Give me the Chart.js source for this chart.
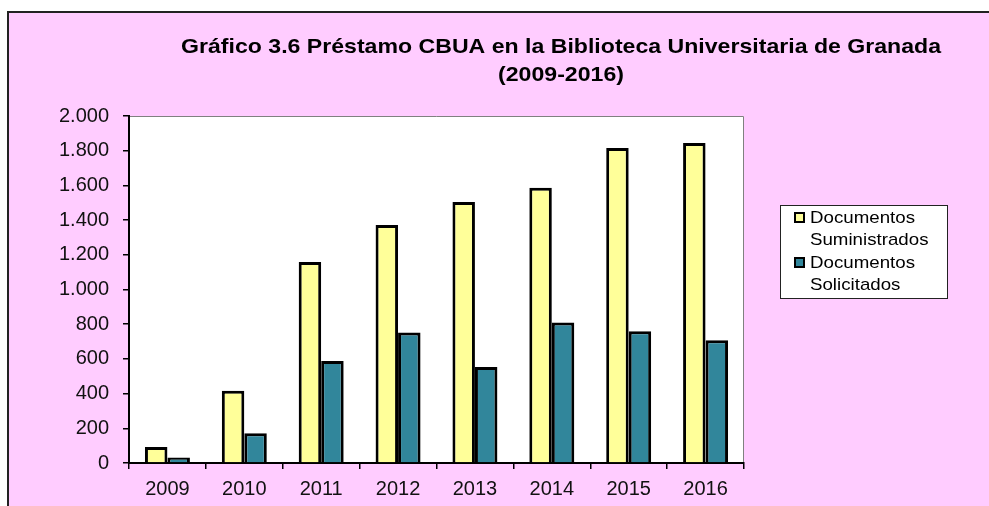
<!DOCTYPE html>
<html>
<head>
<meta charset="utf-8">
<script src="https://cdn.jsdelivr.net/npm/chart.js"></script>
<style>
  html, body { margin: 0; padding: 0; background: #fff; }
  #wrap { position: absolute; left: 0; top: 0; width: 989px; height: 506px; }
</style>
</head>
<body>
<div id="wrap"><canvas id="myChart" width="989" height="506"></canvas></div>
<script>
var years = ["2009", "2010", "2011", "2012", "2013", "2014", "2015", "2016"];
var suministrados = [92, 417, 1158, 1372, 1505, 1587, 1815, 1845];
var solicitados = [32, 172, 588, 752, 553, 810, 760, 707];
var seriesNames = [["Documentos", "Suministrados"], ["Documentos", "Solicitados"]];
var yTickLabels = ["0", "200", "400", "600", "800", "1.000", "1.200", "1.400", "1.600", "1.800", "2.000"];
var titleLines = ["Gráfico 3.6 Préstamo CBUA en la Biblioteca Universitaria de Granada", "(2009-2016)"];

var FONT = "'Liberation Sans', Arial, sans-serif";

// draw text a bit wider than the font, like the original picture
function wideText(ctx, text, x, y, sx) {
  ctx.save();
  ctx.translate(x, y);
  ctx.scale(sx, 1);
  ctx.fillText(text, 0, 0);
  ctx.restore();
}

// background frame, plot area, title and legend box
var decor = {
  id: "decor",
  beforeDraw: function (chart) {
    var ctx = chart.ctx, a = chart.chartArea;
    ctx.save();
    ctx.fillStyle = "#ffffff";
    ctx.fillRect(0, 0, chart.width, chart.height);
    ctx.fillStyle = "#ffccff";
    ctx.fillRect(8, 12, chart.width - 8, chart.height - 12);
    ctx.strokeStyle = "#222";
    ctx.lineWidth = 2;
    ctx.beginPath();
    ctx.moveTo(8, chart.height);
    ctx.lineTo(8, 12);
    ctx.lineTo(chart.width, 12);
    ctx.stroke();
    ctx.fillStyle = "#ffffff";
    ctx.fillRect(a.left, a.top, a.right - a.left, a.bottom - a.top);
    ctx.strokeStyle = "#808080";
    ctx.lineWidth = 1;
    ctx.beginPath();
    ctx.moveTo(a.left, a.top + 0.5);
    ctx.lineTo(a.right - 0.5, a.top + 0.5);
    ctx.lineTo(a.right - 0.5, a.bottom);
    ctx.stroke();
    ctx.restore();
  },
  afterDraw: function (chart) {
    var ctx = chart.ctx;
    ctx.save();
    ctx.fillStyle = "#000";
    ctx.textAlign = "center";
    ctx.textBaseline = "alphabetic";
    ctx.font = "bold 21px " + FONT;
    wideText(ctx, titleLines[0], 561, 53, 1.1);
    wideText(ctx, titleLines[1], 561, 81, 1.1);

    // legend
    var lx = 780, ly = 205, lw = 167, lh = 93;
    ctx.fillStyle = "#fff";
    ctx.fillRect(lx, ly, lw, lh);
    ctx.strokeStyle = "#222";
    ctx.lineWidth = 1;
    ctx.strokeRect(lx + 0.5, ly + 0.5, lw, lh);
    ctx.font = "17px " + FONT;
    ctx.textAlign = "left";
    ctx.textBaseline = "middle";
    var row = 0;
    chart.data.datasets.forEach(function (ds, i) {
      var names = seriesNames[i];
      var cy = ly + 13 + row * 22.5;
      ctx.fillStyle = ds.backgroundColor;
      ctx.fillRect(lx + 15, cy - 5, 9, 9);
      ctx.strokeStyle = "#000";
      ctx.lineWidth = 2;
      ctx.strokeRect(lx + 15, cy - 5, 9, 9);
      ctx.fillStyle = "#000";
      names.forEach(function (t, j) {
        wideText(ctx, t, lx + 30, cy + j * 22.5, 1.1);
      });
      row += names.length;
    });
    ctx.restore();
  }
};

var ctx = document.getElementById("myChart").getContext("2d");
var myChart = new Chart(ctx, {
  type: "bar",
  data: {
    labels: years,
    datasets: [
      {
        label: seriesNames[0].join(" "),
        data: suministrados,
        backgroundColor: "#ffff99",
        borderColor: "#000",
        borderWidth: 3,
      },
      {
        label: seriesNames[1].join(" "),
        data: solicitados,
        backgroundColor: "#31869b",
        borderColor: "#000",
        borderWidth: 3,
      },
    ],
  },
  options: {
    responsive: false,
    animation: false,
    layout: { padding: { top: 116, right: 245, bottom: 0, left: 0 } },
    datasets: { bar: { categoryPercentage: 0.585, barPercentage: 1 } },
    plugins: {
      legend: { display: false },
      title: { display: false },
      tooltip: { enabled: false },
    },
    scales: {
      x: {
        afterFit: function (s) { s.height = 43; },
        grid: { display: true, drawOnChartArea: false, drawTicks: true, tickLength: 6, color: "#000", lineWidth: 1.5, offset: true },
        border: { display: true, color: "#000", width: 2 },
        ticks: { color: "#111", font: { family: FONT, size: 20 }, padding: 8 },
      },
      y: {
        min: 0,
        max: 2000,
        afterFit: function (s) { s.width = 129; },
        grid: { display: true, drawOnChartArea: false, drawTicks: true, tickLength: 6, color: "#000", lineWidth: 1.5 },
        border: { display: true, color: "#000", width: 2 },
        ticks: {
          stepSize: 200,
          color: "#111",
          font: { family: FONT, size: 20 },
          padding: 14,
          callback: function (v, i) { return yTickLabels[i]; },
        },
      },
    },
  },
  plugins: [decor],
});
</script>
</body>
</html>
